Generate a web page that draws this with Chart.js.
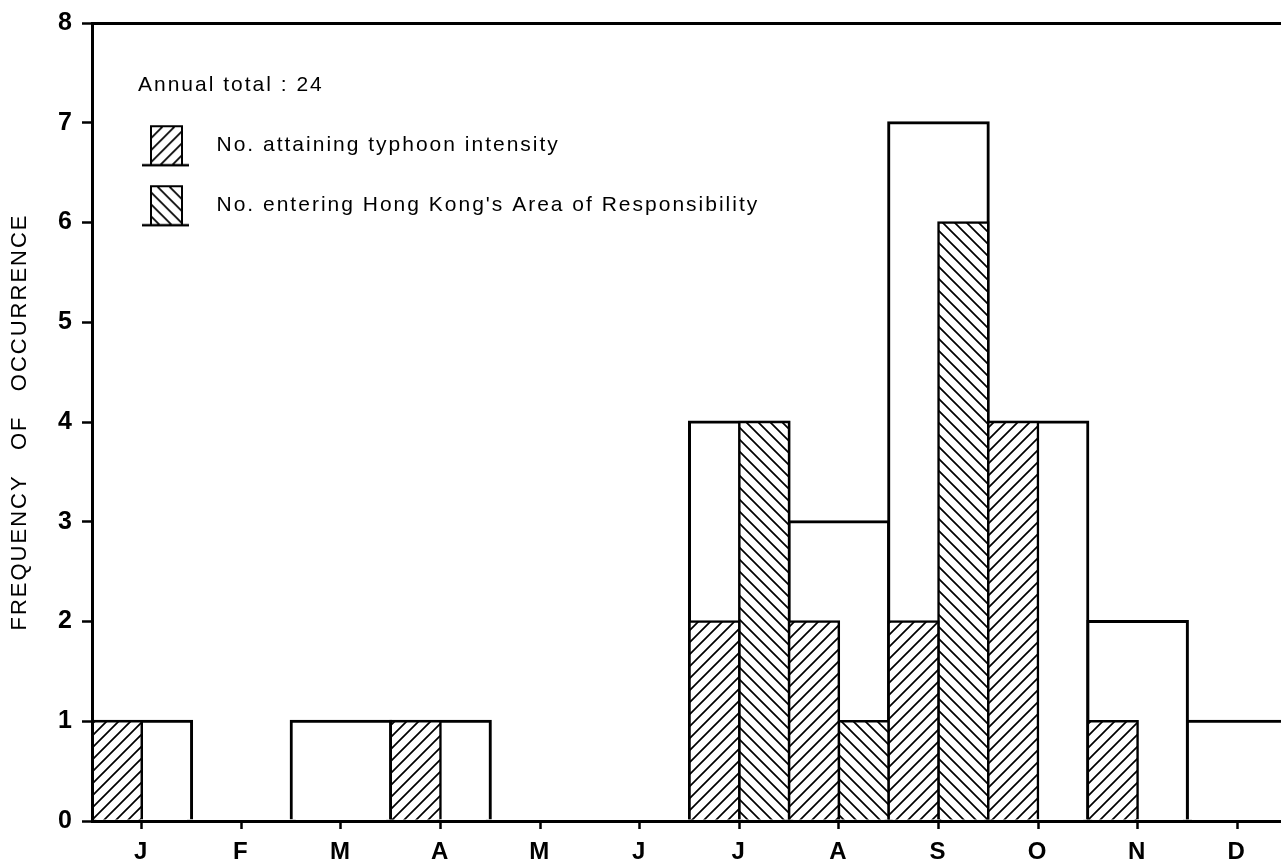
<!DOCTYPE html>
<html>
<head>
<meta charset="utf-8">
<title>Frequency of occurrence</title>
<script src="https://cdn.jsdelivr.net/npm/chart.js@4/dist/chart.umd.min.js"></script>
<style>
html, body { margin: 0; padding: 0; background: #fff; overflow: hidden; }
canvas { display: block; }
</style>
</head>
<body>
<canvas id="chart" width="1290" height="871"></canvas>
<script>
// {{{ data
const months = ['J', 'F', 'M', 'A', 'M', 'J', 'J', 'A', 'S', 'O', 'N', 'D'];
const totalCount = [1, 0, 1, 1, 0, 0, 4, 3, 7, 4, 2, 1];
const typhoonCount = [1, 0, 0, 1, 0, 0, 2, 2, 2, 4, 1, 0];
const enteringCount = [0, 0, 0, 0, 0, 0, 4, 1, 6, 0, 0, 0];
const yTicks = [0, 1, 2, 3, 4, 5, 6, 7, 8];
const seriesNames = ['No. attaining typhoon intensity', 'No. entering Hong Kong\'s Area of Responsibility'];
const annualTotal = 'Annual total : 24';
const yTitle = 'FREQUENCY   OF   OCCURRENCE';
// }}}

const font = "'Liberation Sans', Arial, sans-serif";

// {{{ hatch()
function hatch(dir)
{
  const s = 12;
  const c = document.createElement('canvas');
  c.width = s;
  c.height = s;
  const x = c.getContext('2d');
  x.fillStyle = '#fff';
  x.fillRect(0, 0, s, s);
  x.strokeStyle = '#000';
  x.lineWidth = 1.7;
  x.beginPath();
  if (dir == '/')
  {
    x.moveTo(-2, s + 2); x.lineTo(s + 2, -2);
    x.moveTo(-2, 2); x.lineTo(2, -2);
    x.moveTo(s - 2, s + 2); x.lineTo(s + 2, s - 2);
  }
  else
  {
    x.moveTo(-2, -2); x.lineTo(s + 2, s + 2);
    x.moveTo(s - 2, -2); x.lineTo(s + 2, 2);
    x.moveTo(-2, s - 2); x.lineTo(2, s + 2);
  }
  x.stroke();
  return x.createPattern(c, 'repeat');
}
// }}}
// {{{ icon()
function icon(pattern)
{
  const c = document.createElement('canvas');
  c.width = 64;
  c.height = 44;
  const x = c.getContext('2d');
  x.fillStyle = pattern;
  x.fillRect(8, 2, 33, 40);
  x.strokeStyle = '#000';
  x.lineWidth = 2;
  x.strokeRect(9, 3, 31, 39);
  x.lineWidth = 2.5;
  x.beginPath();
  x.moveTo(0, 42);
  x.lineTo(47, 42);
  x.stroke();
  return c;
}
// }}}

const patterns = [hatch('/'), hatch('\\')];
const icons = patterns.map(p => icon(p));

// {{{ plugin: letter spacing and legend placement
const tweak =
{
  id: 'tweak',
  beforeLayout: (chart) =>
  {
    chart.ctx.letterSpacing = '2px';
  },
  afterLayout: (chart) =>
  {
    let l = chart.legend;
    let a = chart.chartArea;
    l.left = a.left + 46;
    l.right = a.right;
    l.top = a.top;
    l.bottom = a.bottom;
  },
  beforeDraw: (chart) =>
  {
    chart.ctx.letterSpacing = '2px';
  }
};
// }}}

const barBase = {borderColor: '#000', borderSkipped: 'start', categoryPercentage: 1, barPercentage: 1};

new Chart(document.getElementById('chart'),
{
  type: 'bar',
  data:
  {
    labels: months,
    datasets:
    [
      Object.assign({label: seriesNames[0], data: typhoonCount, backgroundColor: patterns[0], borderWidth: 2.5, inflateAmount: 1.25}, barBase),
      Object.assign({label: seriesNames[1], data: enteringCount, backgroundColor: patterns[1], borderWidth: 2.5, inflateAmount: 1.25}, barBase),
      Object.assign({label: 'Total', data: totalCount, backgroundColor: '#fff', borderWidth: 3, inflateAmount: 1.5, grouped: false}, barBase)
    ]
  },
  options:
  {
    responsive: false,
    animation: false,
    layout: {padding: {top: 21, right: 3, left: 0, bottom: 0}},
    plugins:
    {
      tooltip: {enabled: false},
      legend:
      {
        position: 'chartArea',
        align: 'start',
        title:
        {
          display: true,
          text: annualTotal,
          color: '#000',
          position: 'start',
          font: {family: font, size: 21},
          padding: {top: 51.5, bottom: 31}
        },
        labels:
        {
          usePointStyle: true,
          pointStyleWidth: 64,
          padding: 4,
          color: '#000',
          font: {family: font, size: 21, lineHeight: '56px'},
          generateLabels: () => seriesNames.map((n, i) => ({text: [n], pointStyle: icons[i], fillStyle: '#fff', strokeStyle: '#000', lineWidth: 0, hidden: false, datasetIndex: i, fontColor: '#000'}))
        }
      }
    },
    scales:
    {
      x:
      {
        offset: true,
        grid: {offset: false, drawOnChartArea: false, tickLength: 8, tickColor: '#000', tickWidth: 2.5},
        border: {color: '#000', width: 3, z: 1},
        ticks: {color: '#000', font: {family: font, size: 24, weight: 'bold'}, padding: 9, maxRotation: 0, autoSkip: false},
        afterFit: (s) => { s.height = 50; }
      },
      y:
      {
        min: 0,
        max: 8,
        afterBuildTicks: (s) => { s.ticks = yTicks.map(v => ({value: v})); },
        grid:
        {
          color: (c) => (c.tick && c.tick.value == 8) ? '#000' : 'rgba(0,0,0,0)',
          lineWidth: 3,
          tickLength: 10,
          tickColor: '#000',
          tickWidth: 2.5
        },
        border: {color: '#000', width: 3, z: 1},
        ticks: {color: '#000', font: {family: font, size: 25, weight: 'bold'}, padding: 8},
        title: {display: true, text: yTitle, color: '#000', font: {family: font, size: 22}, padding: {top: 7, bottom: 0}},
        afterFit: (s) => { s.width = 92; }
      }
    }
  },
  plugins: [tweak]
});
</script>
</body>
</html>
